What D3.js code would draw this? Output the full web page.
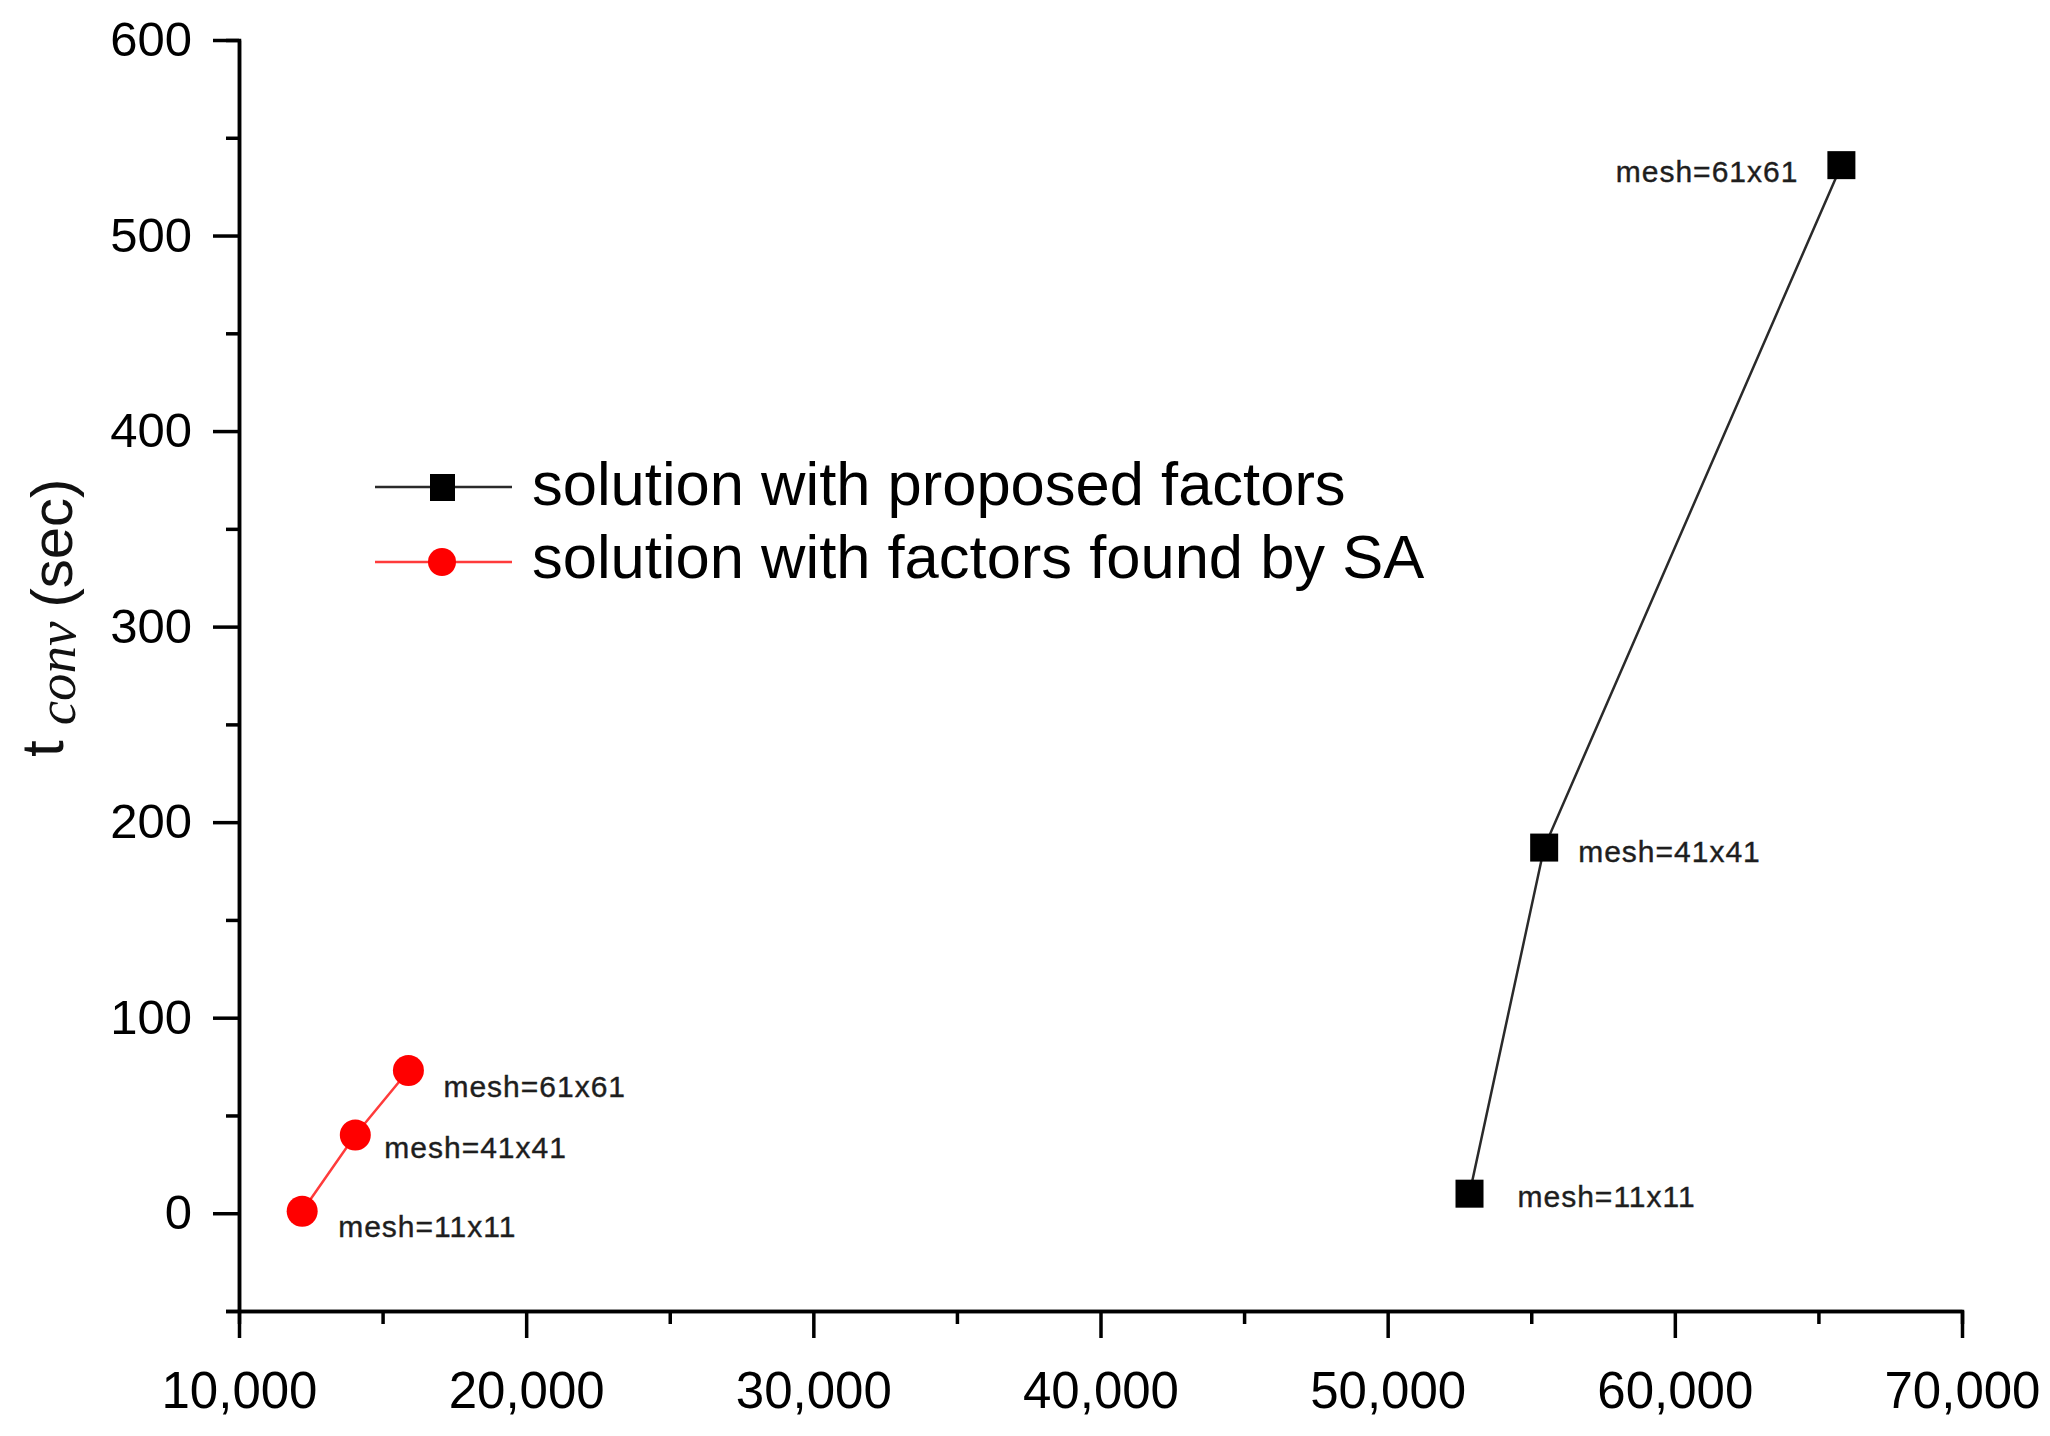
<!DOCTYPE html>
<html>
<head>
<meta charset="utf-8">
<script src="https://cdn.jsdelivr.net/npm/d3@7"></script>
<style>
  body { margin: 0; background: #fff; }
  text { font-family: "Liberation Sans", Arial, sans-serif; }
</style>
</head>
<body>
<div id="chart"></div>
<script>
// DATA
const meshLabels = ["mesh=11x11", "mesh=41x41", "mesh=61x61"];
const proposedX = [52850, 55450, 65800];
const proposedY = [10, 187, 536];
const saX = [12200, 14050, 15900];
const saY = [1, 40, 73];
const xTicks = [10000, 20000, 30000, 40000, 50000, 60000, 70000];
const yTicks = [0, 100, 200, 300, 400, 500, 600];
const seriesNames = ["solution with proposed factors", "solution with factors found by SA"];

// SIZE AND SCALES
const W = 2050, H = 1436;
const x = d3.scaleLinear().domain([10000, 70000]).range([239, 1962]);
const y = d3.scaleLinear().domain([-50, 600]).range([1311, 40]);

const svg = d3.select("#chart").append("svg")
  .attr("width", W).attr("height", H);
svg.append("rect").attr("width", W).attr("height", H).attr("fill", "#fff");

// AXES
function styleAxis(g) {
  g.select(".domain").attr("stroke", "#000").attr("stroke-width", 3.5);
  g.selectAll(".tick line").attr("stroke", "#000").attr("stroke-width", 3.5);
}

const yMinor = d3.range(-50, 600, 100);
svg.append("g")
  .attr("transform", `translate(${x(10000)},0)`)
  .call(d3.axisLeft(y).tickValues(yMinor).tickSize(13).tickFormat(""))
  .call(styleAxis);

svg.append("g")
  .attr("transform", `translate(${x(10000)},0)`)
  .call(d3.axisLeft(y).tickValues(yTicks).tickSize(26).tickSizeOuter(0).tickPadding(21))
  .call(styleAxis)
  .call(g => g.selectAll("text").attr("font-size", 49).attr("fill", "#000")
    .attr("font-family", "Liberation Sans, Arial, sans-serif"));

const xMinor = d3.range(15000, 70000, 10000);
svg.append("g")
  .attr("transform", `translate(0,${y(-50)})`)
  .call(d3.axisBottom(x).tickValues(xMinor).tickSize(13).tickFormat(""))
  .call(styleAxis);

svg.append("g")
  .attr("transform", `translate(0,${y(-50)})`)
  .call(d3.axisBottom(x).tickValues(xTicks).tickSize(27).tickSizeOuter(0).tickPadding(34)
    .tickFormat(d3.format(",")))
  .call(styleAxis)
  .call(g => g.selectAll("text").attr("font-size", 51).attr("fill", "#000")
    .attr("font-family", "Liberation Sans, Arial, sans-serif"));

// Y AXIS TITLE
const yt = svg.append("text")
  .attr("transform", "translate(72,757) rotate(-90)")
  .attr("fill", "#111");
yt.append("tspan").attr("font-size", 60).attr("dy", -9).text("t");
yt.append("tspan").attr("font-size", 55).attr("font-style", "italic")
  .attr("font-family", "Liberation Serif, Times New Roman, serif")
  .attr("dx", 15).attr("dy", 12).text("conv");
yt.append("tspan").attr("font-size", 58).attr("dx", 14).attr("dy", -3).text("(sec)");

// SERIES
const proposed = proposedX.map((d, i) => ({ x: d, y: proposedY[i], label: meshLabels[i] }));
const sa = saX.map((d, i) => ({ x: d, y: saY[i], label: meshLabels[i] }));

const line = d3.line().x(d => x(d.x)).y(d => y(d.y));

svg.append("path").datum(sa)
  .attr("d", line).attr("fill", "none")
  .attr("stroke", "#ff3b3b").attr("stroke-width", 2.5);

svg.append("path").datum(proposed)
  .attr("d", line).attr("fill", "none")
  .attr("stroke", "#2a2a2a").attr("stroke-width", 2.5);

svg.selectAll(".sq").data(proposed).enter().append("rect")
  .attr("x", d => x(d.x) - 14).attr("y", d => y(d.y) - 14)
  .attr("width", 28).attr("height", 28).attr("fill", "#000");

svg.selectAll(".dot").data(sa).enter().append("circle")
  .attr("cx", d => x(d.x)).attr("cy", d => y(d.y))
  .attr("r", 15.5).attr("fill", "#ff0000");

// MESH LABELS (offsets from each point)
const saOff = [[36, 26], [29, 23], [35, 27]];
const propOff = [[48, 13], [34, 14], [-43, 17]];

function meshText(data, off, anchorLast) {
  svg.append("g").selectAll("text").data(data).enter().append("text")
    .attr("x", (d, i) => x(d.x) + off[i][0])
    .attr("y", (d, i) => y(d.y) + off[i][1])
    .attr("text-anchor", (d, i) => (anchorLast && i === data.length - 1) ? "end" : "start")
    .attr("font-size", 30).attr("letter-spacing", 1)
    .attr("fill", "#1e1e1e").attr("stroke", "#1e1e1e").attr("stroke-width", 0.4)
    .text(d => d.label);
}
meshText(sa, saOff, false);
meshText(proposed, propOff, true);

// LEGEND
const leg = svg.append("g");
leg.append("line").attr("x1", 375).attr("x2", 512).attr("y1", 487).attr("y2", 487)
  .attr("stroke", "#2a2a2a").attr("stroke-width", 2.5);
leg.append("rect").attr("x", 430).attr("y", 474).attr("width", 25).attr("height", 27).attr("fill", "#000");
leg.append("text").attr("x", 532).attr("y", 505).attr("font-size", 61.5).attr("fill", "#000")
  .text(seriesNames[0]);

leg.append("line").attr("x1", 375).attr("x2", 512).attr("y1", 562).attr("y2", 562)
  .attr("stroke", "#ff3b3b").attr("stroke-width", 2.5);
leg.append("circle").attr("cx", 442).attr("cy", 562).attr("r", 14).attr("fill", "#ff0000");
leg.append("text").attr("x", 532).attr("y", 578).attr("font-size", 61.5).attr("fill", "#000")
  .text(seriesNames[1]);
</script>
</body>
</html>
